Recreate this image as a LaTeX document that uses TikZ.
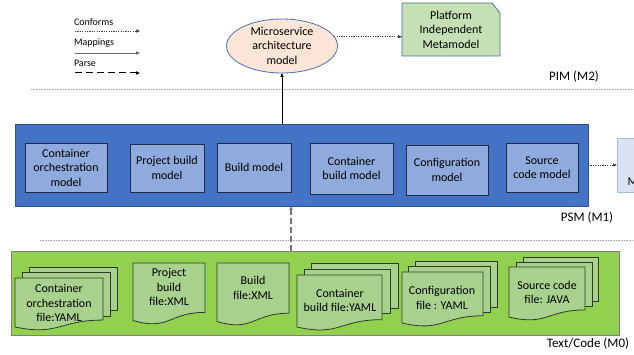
\documentclass[tikz,border=0pt]{standalone}
\usepackage{fontspec}
\setmainfont{Carlito}
\usetikzlibrary{arrows.meta,shapes.geometric,calc}

\definecolor{psmblue}{HTML}{4472C4}
\definecolor{psmedge}{HTML}{2F528F}
\definecolor{modfill}{HTML}{8FAADC}
\definecolor{modedge}{HTML}{1F2B45}
\definecolor{msafill}{HTML}{FBE5D6}
\definecolor{msaedge}{HTML}{4A72B8}
\definecolor{pimfill}{HTML}{C5E0B4}
\definecolor{pimedge}{HTML}{41719C}
\definecolor{codefill}{HTML}{92D050}
\definecolor{codeedge}{HTML}{7F7F7F}
\definecolor{docfill}{HTML}{A9D18E}
\definecolor{docedge}{HTML}{2E3B22}
\definecolor{psmmfill}{HTML}{DAE3F3}
\definecolor{psmmedge}{HTML}{A9BCE0}
\definecolor{levelgray}{HTML}{A6A6A6}

\tikzset{
  base/.style={inner sep=0pt, outer sep=0pt},
  modbox/.style={base, rectangle, draw=modedge, line width=0.9pt, fill=modfill,
    align=center, font=\fontsize{12}{14.5}\selectfont},
  doctext/.style={base, align=center, font=\fontsize{12}{14.5}\selectfont},
  legendtext/.style={base, anchor=west, font=\fontsize{10}{12}\selectfont},
  leveltext/.style={base, font=\fontsize{13}{15}\selectfont},
  sheetstyle/.style={draw=docedge, line width=0.8pt, fill=docfill},
  levelline/.style={levelgray, line width=0.6pt, dash pattern=on 1pt off 0.6pt},
  tip/.style={-{Triangle[length=4pt,width=3.2pt]}},
  conforms/.style={tip, black!75, line width=0.6pt, dash pattern=on 1.2pt off 1.2pt},
  mapping/.style={tip, black, line width=0.8pt},
  legendmapping/.style={tip, black!60, line width=0.8pt},
  parse/.style={tip, black!55, line width=1.4pt, dash pattern=on 6pt off 3pt},
  legendparse/.style={tip, black, line width=1pt, dash pattern=on 7pt off 4pt},
}

% one document sheet with a wavy lower edge: x1, y1 (top), x2, y at the left bottom
\newcommand\docsheet[4]{%
  \pgfmathsetmacro\dsh{(#4-#2)/0.934}%
  \pgfmathsetmacro\dsm{(#1+#3)/2}%
  \pgfmathsetmacro\dsr{#2+0.802*\dsh}%
  \pgfmathsetmacro\dsc{#2+1.1075*\dsh}%
  \draw[sheetstyle] (#1,#2) -- (#3,#2) -- (#3,\dsr)
    .. controls (\dsm,\dsr) and (\dsm,\dsc) .. (#1,#4) -- cycle;}

\begin{document}
\begin{tikzpicture}[x=1pt,y=-1pt]
\clip (0,0) rectangle (634,355);
\fill[white] (0,0) rectangle (634,355);

% legend
\node[legendtext] (lgconf) at (74,22) {Conforms};
\node[legendtext] (lgmap) at (74,43) {Mappings};
\node[legendtext] (lgparse) at (74,63) {Parse};
\coordinate (cfa) at (75,31);  \coordinate (cfb) at (140,31);
\coordinate (mpa) at (75,53);  \coordinate (mpb) at (140,53);
\coordinate (psa) at (75,73);  \coordinate (psb) at (140,73);
\draw[conforms] (cfa) -- (cfb);
\draw[legendmapping] (mpa) -- (mpb);
\draw[legendparse] (psa) -- (psb);

% level separators
\coordinate (pimL) at (31,89);  \coordinate (pimR) at (634,89);
\coordinate (psmL) at (40,240); \coordinate (psmR) at (634,240);
\draw[levelline] (pimL) -- (pimR);
\draw[levelline] (psmL) -- (psmR);
\node[leveltext] (pimlabel) at (574,77) {PIM (M2)};
\node[leveltext] (psmlabel) at (587,218) {PSM (M1)};
\node[leveltext] (codelabel) at (588,344) {Text/Code (M0)};

% PIM level
\node[base, ellipse, draw=msaedge, line width=0.8pt, fill=msafill,
      minimum width=111, minimum height=54] (msa) at (282,46) {};
\node[doctext] (msatext) at (282,45.5) {Microservice\\architecture\\model};

\node[base, minimum width=98, minimum height=53] (pim) at (451,29.5) {};
\draw[draw=pimedge, line width=0.8pt, fill=pimfill]
  (pim.north west) -- ([xshift=-8pt]pim.north east) -- ([yshift=-10pt]pim.north east)
  -- (pim.south east) -- (pim.south west) -- cycle;
\node[doctext] (pimtext) at (pim) {Platform\\Independent\\Metamodel};

% PSM level
\node[base, rectangle, draw=psmedge, line width=0.9pt, fill=psmblue,
      minimum width=573, minimum height=82] (psm) at (301.5,165) {};
\node[modbox, minimum width=82, minimum height=49] (orch) at (66,167.5) {Container\\orchestration\\model};
\node[modbox, minimum width=74, minimum height=48] (proj) at (167,168) {Project build\\model};
\node[modbox, minimum width=74, minimum height=49] (build) at (254,167.5) {Build model};
\node[modbox, minimum width=83, minimum height=51] (cbuild) at (351.5,168.5) {Container\\build model};
\node[modbox, minimum width=82, minimum height=50] (config) at (447,170) {Configuration\\model};
\node[modbox, minimum width=72, minimum height=49] (source) at (542,167.5) {Source\\code model};

\node[base, rectangle, draw=psmmedge, line width=0.8pt, fill=psmmfill,
      minimum width=86, minimum height=54] (psmm) at (660,165) {};
\node[base, anchor=west, font=\fontsize{12}{14.5}\selectfont] (psmmtext) at (627.5,182) {M};

% Text/Code level
\node[base, rectangle, draw=codeedge, line width=0.9pt, fill=codefill,
      minimum width=608, minimum height=84] (code) at (315,293) {};

% container orchestration files
\draw[sheetstyle] (29,267) rectangle (117,310);
\draw[sheetstyle] (22,272.5) rectangle (110,316);
\docsheet{15}{278}{103}{327}
\node[doctext] (doc1) at (59,303) {Container\\orchestration\\file:YAML};

% project build file
\docsheet{133}{263}{205}{320.5}
\node[doctext] (doc2) at (169,287) {Project\\build\\file:XML};

% build file
\docsheet{217}{263}{289}{321.5}
\node[doctext] (doc3) at (253,288) {Build\\file:XML};

% container build files
\draw[sheetstyle] (311,263) rectangle (398,308);
\draw[sheetstyle] (304,269) rectangle (390,313.5);
\docsheet{297}{275}{382}{327}
\node[doctext] (doc4) at (340,300.5) {Container\\build file:YAML};

% configuration files
\draw[sheetstyle] (415,261) rectangle (497,307);
\draw[sheetstyle] (408,266.5) rectangle (490,312);
\docsheet{402}{272}{483}{323}
\node[doctext] (doc5) at (442,298) {Configuration\\file : YAML};

% source code files
\draw[sheetstyle] (523,257) rectangle (598,301.5);
\draw[sheetstyle] (516,262) rectangle (592,306);
\docsheet{509}{267}{585}{317}
\node[doctext] (doc6) at (547,292.5) {Source code\\file: JAVA};

% connectors
\draw[mapping] (psm.north -| msa.south) -- (msa.south);
\draw[conforms] (msa.10) -- (msa.10 -| pim.west);
\draw[conforms] (psm.east) -- (psm.east -| psmm.west);
\coordinate (parsex) at (291,0);
\draw[parse] (code.north -| parsex) -- (psm.south -| parsex);
\end{tikzpicture}
\end{document}
